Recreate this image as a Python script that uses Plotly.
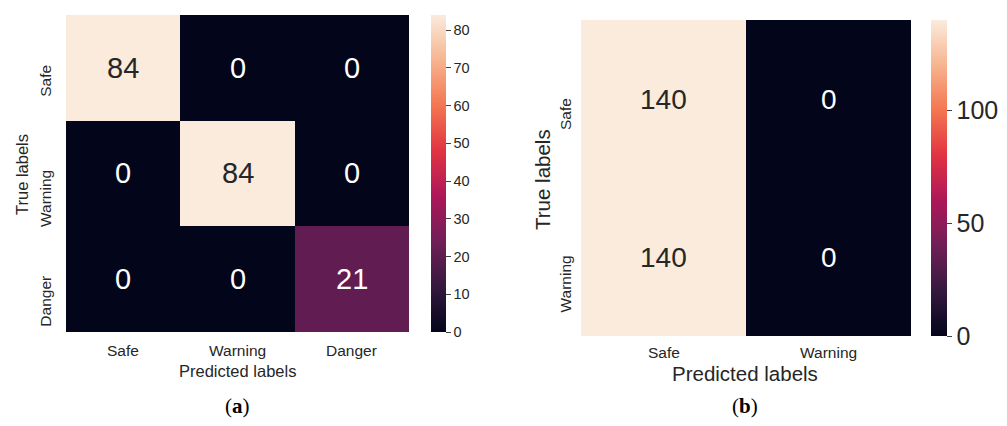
import plotly.graph_objects as go

# ---- data -----------------------------------------------------------------
labels_a = ["Safe", "Warning", "Danger"]
cm_a = [
    [84, 0, 0],
    [0, 84, 0],
    [0, 0, 21],
]
cbar_ticks_a = [0, 10, 20, 30, 40, 50, 60, 70, 80]

labels_b = ["Safe", "Warning"]
cm_b = [
    [140, 0],
    [140, 0],
]
cbar_ticks_b = [0, 50, 100]

x_title = "Predicted labels"
y_title = "True labels"
captions = ["(<b>a</b>)", "(<b>b</b>)"]

# ---- styling ----------------------------------------------------------------
W, H = 1007, 426
FONT = "Liberation Sans, Arial, sans-serif"
TEXT_DARK = "#262626"

ROCKET = [
    [0.000, "#03051A"],
    [0.143, "#35193E"],
    [0.286, "#701F57"],
    [0.429, "#AD1759"],
    [0.571, "#E13342"],
    [0.714, "#F37651"],
    [0.857, "#F6B48F"],
    [1.000, "#FAEBDD"],
]


def fx(px):
    return px / W


def fy(py):
    return 1 - py / H


fig = go.Figure()


def add_matrix(cm, labels, xa, ya, cbar, zmax):
    fig.add_trace(go.Heatmap(
        z=cm, x=labels, y=labels,
        xaxis=xa, yaxis=ya,
        colorscale=ROCKET, zmin=0, zmax=zmax,
        colorbar=cbar, hoverinfo="z",
    ))


add_matrix(cm_a, labels_a, "x", "y", dict(
    x=fx(431), xanchor="left", y=fy(15), yanchor="top",
    len=317 / H, lenmode="fraction", thickness=15, thicknessmode="pixels",
    xpad=0, ypad=0, outlinewidth=0,
    ticks="outside", ticklen=5, tickwidth=1, tickcolor="#404040",
    tickvals=cbar_ticks_a, tickfont=dict(family=FONT, size=14.5, color=TEXT_DARK),
), max(max(r) for r in cm_a))

add_matrix(cm_b, labels_b, "x2", "y2", dict(
    x=fx(931), xanchor="left", y=fy(20), yanchor="top",
    len=316 / H, lenmode="fraction", thickness=16, thicknessmode="pixels",
    xpad=0, ypad=0, outlinewidth=0,
    ticks="outside", ticklen=5, tickwidth=1, tickcolor="#404040",
    tickvals=cbar_ticks_b, tickfont=dict(family=FONT, size=25, color=TEXT_DARK),
), max(max(r) for r in cm_b))

axis_common = dict(showticklabels=False, showgrid=False, zeroline=False,
                   ticks="", showline=False)

fig.update_layout(
    width=W, height=H,
    margin=dict(l=0, r=0, t=0, b=0),
    paper_bgcolor="white", plot_bgcolor="white",
    showlegend=False,
    xaxis=dict(domain=[fx(66), fx(409)], anchor="y", **axis_common),
    yaxis=dict(domain=[fy(332), fy(15)], anchor="x", autorange="reversed", **axis_common),
    xaxis2=dict(domain=[fx(581), fx(911)], anchor="y2", **axis_common),
    yaxis2=dict(domain=[fy(336), fy(20)], anchor="x2", autorange="reversed", **axis_common),
)

ann = []


def label(**kw):
    kw.setdefault("xanchor", "center")
    kw.setdefault("yanchor", "middle")
    kw.setdefault("showarrow", False)
    ann.append(kw)


def cell_text(cm, labels, xr, yr, size):
    zmax = max(max(r) for r in cm)
    for i, row_lab in enumerate(labels):
        for j, col_lab in enumerate(labels):
            v = cm[i][j]
            color = TEXT_DARK if v > 0.6 * zmax else "white"
            label(x=col_lab, y=row_lab, xref=xr, yref=yr, text=str(v),
                  font=dict(family=FONT, size=size, color=color))


def tick_labels(labels, xr, yr, x_tick_y, y_tick_x, size, shift):
    for lab in labels:
        label(x=lab, xref=xr, y=fy(x_tick_y), yref="paper", text=lab,
              font=dict(family=FONT, size=size, color=TEXT_DARK))
        label(x=fx(y_tick_x), xref="paper", y=lab, yref=yr, text=lab,
              textangle=-90, yanchor="top", yshift=shift,
              font=dict(family=FONT, size=size, color=TEXT_DARK))


def titles(cx, xt_y, yt_x, yt_y, size, caption):
    label(x=fx(cx), y=fy(xt_y), xref="paper", yref="paper", text=x_title,
          font=dict(family=FONT, size=size, color=TEXT_DARK))
    label(x=fx(yt_x), y=fy(yt_y), xref="paper", yref="paper", text=y_title,
          textangle=-90, font=dict(family=FONT, size=size, color=TEXT_DARK))
    label(x=fx(cx), y=fy(406), xref="paper", yref="paper", text=caption,
          font=dict(family="Liberation Serif, Times New Roman, serif",
                    size=21, color="black"))


cell_text(cm_a, labels_a, "x", "y", 29)
tick_labels(labels_a, "x", "y", 350, 46, 15.5, 5)
titles(237, 371, 22, 175, 16.5, captions[0])

cell_text(cm_b, labels_b, "x2", "y2", 28)
tick_labels(labels_b, "x2", "y2", 352, 565, 15.5, 3)
titles(745, 373, 542, 180, 20.5, captions[1])

fig.update_layout(annotations=ann)

fig.write_html("out.html")
